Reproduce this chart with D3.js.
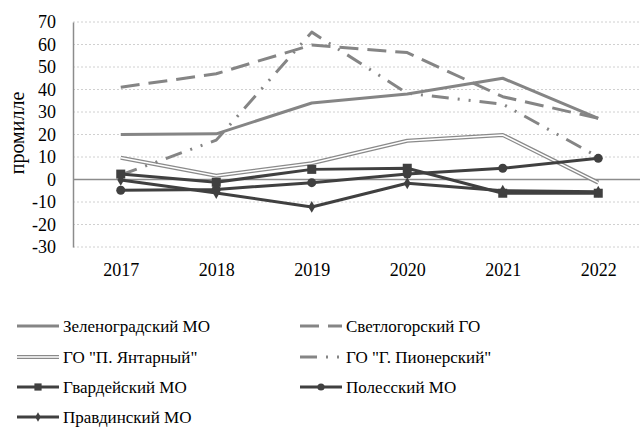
<!DOCTYPE html>
<html>
<head>
<meta charset="utf-8">
<script src="https://cdn.jsdelivr.net/npm/d3@7"></script>
<style>
  body { margin: 0; background: #fff; }
  svg text { font-family: "Liberation Serif", serif; fill: #000; }
</style>
</head>
<body>
<svg id="chart" width="640" height="427"></svg>
<script>
const years = ["2017", "2018", "2019", "2020", "2021", "2022"];
const yTicks = [-30, -20, -10, 0, 10, 20, 30, 40, 50, 60, 70];

const zelenograd = [20, 20.3, 34, 38, 45, 27.2];
const svetlogorsk = [41, 47, 59.8, 56.4, 36.8, 27.2];
const yantarny = [9.7, 1.7, 7.2, 17.2, 19.8, -1.4];
const pionersky = [2, 17.5, 65.5, 38.3, 33.5, 10];
const gvardeysk = [2.4, -1.2, 4.5, 5, -6.1, -6.1];
const polessk = [-4.8, -4.4, -1.4, 2.4, 5, 9.4];
const pravdinsk = [-0.2, -6, -12.2, -1.7, -5, -5.4];

const seriesNames = ["Зеленоградский МО", "Светлогорский ГО", "ГО \"П. Янтарный\"",
    "ГО \"Г. Пионерский\"", "Гвардейский МО", "Полесский МО", "Правдинский МО"];

const light = "#858585", dark = "#404040";
const series = [
    {name: seriesNames[0], values: zelenograd, color: light, width: 3, dash: null, marker: null},
    {name: seriesNames[1], values: svetlogorsk, color: light, width: 3, dash: "19,9", marker: null},
    {name: seriesNames[2], values: yantarny, color: "#8a8a8a", width: 4, dash: null, marker: null, double: true},
    {name: seriesNames[3], values: pionersky, color: light, width: 3, dash: "17,9,2,9,2,9", marker: null},
    {name: seriesNames[4], values: gvardeysk, color: dark, width: 3, dash: null, marker: "square"},
    {name: seriesNames[5], values: polessk, color: dark, width: 3, dash: null, marker: "circle"},
    {name: seriesNames[6], values: pravdinsk, color: dark, width: 3, dash: null, marker: "diamond"}
];

const svg = d3.select("#chart");
const plotLeft = 73, plotRight = 646, plotTop = 22, plotBottom = 247;

const x = d3.scalePoint().domain(years).range([plotLeft, plotRight]).padding(0.5);
const y = d3.scaleLinear().domain([-30, 70]).range([plotBottom, plotTop]);

// grid
svg.append("g").selectAll("line.grid")
    .data(yTicks.filter(d => d !== 0))
    .enter().append("line")
    .attr("x1", plotLeft).attr("x2", 640)
    .attr("y1", d => y(d)).attr("y2", d => y(d))
    .attr("stroke", "#d0d0d0").attr("stroke-width", 1)
    .attr("stroke-dasharray", "2,2");

// y axis
const yAxis = svg.append("g")
    .attr("transform", `translate(${plotLeft},0)`)
    .call(d3.axisLeft(y).tickValues(yTicks).tickFormat(d => String(d)).tickSize(0).tickPadding(17));
yAxis.select(".domain").attr("stroke", "#8c8c8c").attr("stroke-width", 1.5);
yAxis.selectAll("text").style("font-size", "18px").attr("font-family", "Liberation Serif");

// zero line
svg.append("line")
    .attr("x1", plotLeft).attr("x2", 640)
    .attr("y1", y(0)).attr("y2", y(0))
    .attr("stroke", "#8c8c8c").attr("stroke-width", 1.3);

// x labels
const xAxis = svg.append("g")
    .attr("transform", `translate(0,${plotBottom})`)
    .call(d3.axisBottom(x).tickSize(0).tickPadding(16));
xAxis.select(".domain").remove();
xAxis.selectAll("text").style("font-size", "18px").attr("font-family", "Liberation Serif");

// y title
svg.append("text")
    .attr("transform", `translate(24,133) rotate(-90)`)
    .attr("text-anchor", "middle")
    .style("font-size", "20px")
    .text("промилле");

const line = d3.line()
    .x((d, i) => x(years[i]))
    .y(d => y(d));

function drawMarker(g, type, cx, cy, color, scale) {
    const s = scale || 1;
    if (type === "square") {
        g.append("rect").attr("x", cx - 4.5 * s).attr("y", cy - 4.5 * s)
            .attr("width", 9 * s).attr("height", 9 * s).attr("fill", color);
    } else if (type === "circle") {
        g.append("circle").attr("cx", cx).attr("cy", cy).attr("r", 4.5 * s).attr("fill", color);
    } else if (type === "diamond") {
        g.append("path")
            .attr("d", d3.symbol().type(d3.symbolDiamond).size(40 * s * s)())
            .attr("transform", `translate(${cx},${cy})`)
            .attr("fill", color);
    }
}

series.forEach(s => {
    const g = svg.append("g");
    g.append("path")
        .datum(s.values)
        .attr("d", line)
        .attr("fill", "none")
        .attr("stroke", s.color)
        .attr("stroke-width", s.width)
        .attr("stroke-dasharray", s.dash)
        .attr("stroke-linejoin", "round");
    if (s.double) {
        g.append("path")
            .datum(s.values)
            .attr("d", line)
            .attr("fill", "none")
            .attr("stroke", "#fff")
            .attr("stroke-width", 1.6);
    }
    if (s.marker) {
        s.values.forEach((v, i) => drawMarker(g, s.marker, x(years[i]), y(v), s.color));
    }
});

// legend
const legendCols = [17, 300];
const legendRows = [326, 357, 387, 417];
series.forEach((s, i) => {
    const lx = legendCols[i % 2], ly = legendRows[Math.floor(i / 2)];
    const g = svg.append("g");
    const len = 42;
    g.append("line")
        .attr("x1", lx).attr("x2", lx + len)
        .attr("y1", ly).attr("y2", ly)
        .attr("stroke", s.color)
        .attr("stroke-width", s.width)
        .attr("stroke-dasharray", s.dash);
    if (s.double) {
        g.append("line")
            .attr("x1", lx).attr("x2", lx + len)
            .attr("y1", ly).attr("y2", ly)
            .attr("stroke", "#fff").attr("stroke-width", 1.6);
    }
    if (s.marker) drawMarker(g, s.marker, lx + len / 2, ly, s.color, 0.8);
    g.append("text")
        .attr("x", lx + len + 4)
        .attr("y", ly)
        .attr("dy", "0.35em")
        .style("font-size", "17px")
        .text(s.name);
});
</script>
</body>
</html>
